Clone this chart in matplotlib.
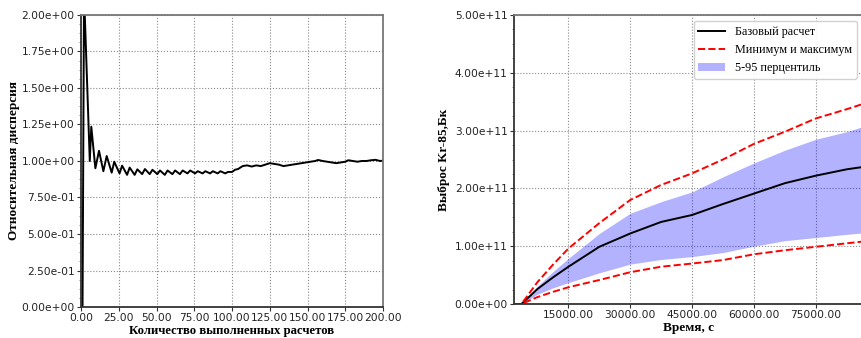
import matplotlib
matplotlib.use('Agg')
import matplotlib.pyplot as plt
from matplotlib.ticker import FormatStrFormatter, MultipleLocator, AutoMinorLocator

plt.rcParams['font.family'] = 'DejaVu Sans'

# --- left panel: relative variance vs number of runs (polyline vertices)
runs = [1, 2, 5.8, 6.8, 9.5, 11.9, 14.8, 17, 20.3, 22, 25.5, 27.2, 30.5, 32.2, 35.5, 37.3,
        40.5, 42.3, 45.5, 47.3, 50.5, 52.3, 55.5, 57.3, 60.5, 62.3, 65.5, 67.3, 70.5, 72.3,
        75.5, 77.3, 80.5, 82.3, 85.5, 87.3, 90.5, 92.3, 95.5, 97.3, 100, 102, 104, 107, 110,
        113, 116, 119, 122, 125, 128, 131, 134, 137, 140, 143, 146, 149, 152, 155, 157, 160,
        163, 166, 169, 172, 175, 177, 180, 183, 186, 189, 192, 195, 198, 200]
rel_var = [0.0, 2.15, 1.0, 1.235, 0.95, 1.07, 0.93, 1.034, 0.92, 0.995, 0.915, 0.968, 0.905,
           0.955, 0.905, 0.943, 0.91, 0.945, 0.91, 0.94, 0.91, 0.935, 0.905, 0.935, 0.91, 0.935,
           0.91, 0.935, 0.915, 0.935, 0.915, 0.93, 0.915, 0.93, 0.915, 0.93, 0.915, 0.93, 0.915,
           0.925, 0.925, 0.94, 0.945, 0.965, 0.97, 0.962, 0.97, 0.965, 0.975, 0.985, 0.98, 0.975,
           0.965, 0.97, 0.975, 0.98, 0.985, 0.99, 0.995, 1.0, 1.007, 1.0, 0.995, 0.99, 0.985,
           0.99, 0.995, 1.005, 1.0, 0.995, 1.0, 1.0, 1.005, 1.008, 1.0, 1.002]

# --- right panel: Kr-85 release vs time (values in 1e11 Bq)
time_s = [1800, 3600, 7500, 11250, 15000, 22500, 30000, 37500, 45000, 52500, 60000, 67500,
          75000, 82500, 86400]
base = [0, 0, 0.26, 0.46, 0.645, 0.99, 1.22, 1.42, 1.54, 1.73, 1.91, 2.09, 2.22, 2.33, 2.37]
rel_max = [0, 0, 0.38, 0.68, 0.96, 1.40, 1.80, 2.06, 2.26, 2.50, 2.77, 2.98, 3.21, 3.37, 3.46]
rel_min = [0, 0, 0.12, 0.21, 0.29, 0.415, 0.55, 0.645, 0.70, 0.76, 0.86, 0.93, 0.99, 1.05, 1.08]
p95 = [0, 0, 0.31, 0.56, 0.79, 1.22, 1.57, 1.77, 1.94, 2.20, 2.44, 2.66, 2.85, 2.98, 3.07]
p5 = [0, 0, 0.17, 0.28, 0.37, 0.54, 0.69, 0.77, 0.82, 0.89, 1.00, 1.095, 1.15, 1.205, 1.23]
scale = 1e11

serif = 'Liberation Serif'
tick_fs = 7.7
label_fs = 9.5


def style_axes(ax):
    ax.grid(True, linestyle=':', color='#8a8a8a', linewidth=0.8)
    ax.set_axisbelow(True)
    for side in ['top', 'right']:
        ax.spines[side].set_color('#777777')
        ax.spines[side].set_linewidth(1.3)
    for side in ['left', 'bottom']:
        ax.spines[side].set_color('#333333')
        ax.spines[side].set_linewidth(1.3)
    ax.tick_params(axis='both', which='major', labelsize=tick_fs, length=3, width=0.8,
                   color='#333333', labelcolor='#222222', pad=1.5)
    ax.yaxis.set_minor_locator(AutoMinorLocator(4))
    ax.tick_params(axis='y', which='minor', length=1.5, width=0.5, color='#555555')
    ax.tick_params(axis='x', which='minor', length=0)


fig = plt.figure(figsize=(8.61, 3.38), dpi=100)

ax1 = fig.add_axes([0.0941, 0.0917, 0.3508, 0.864])
ax1.plot(runs, rel_var, color='black', linewidth=1.4)
ax1.set_xlim(0, 200)
ax1.set_ylim(0, 2.0)
ax1.xaxis.set_major_locator(MultipleLocator(25))
ax1.yaxis.set_major_locator(MultipleLocator(0.25))
ax1.xaxis.set_major_formatter(FormatStrFormatter('%.2f'))
ax1.yaxis.set_major_formatter(FormatStrFormatter('%.2e'))
style_axes(ax1)
ax1.set_xlabel('Количество выполненных расчетов', family=serif, fontweight='bold',
               fontsize=9.2, labelpad=1)
ax1.set_ylabel('Относительная дисперсия', family=serif, fontweight='bold',
               fontsize=label_fs, labelpad=1)

ax2 = fig.add_axes([0.597, 0.1006, 0.405, 0.855])
ax2.fill_between(time_s, [v * scale for v in p5], [v * scale for v in p95],
                 color='blue', alpha=0.3, linewidth=0, label='5-95 перцентиль')
ax2.plot(time_s, [v * scale for v in base], color='black', linewidth=1.4, label='Базовый расчет')
ax2.plot(time_s, [v * scale for v in rel_max], color='red', linestyle='--', linewidth=1.4,
         label='Минимум и максимум')
ax2.plot(time_s, [v * scale for v in rel_min], color='red', linestyle='--', linewidth=1.4)
ax2.set_xlim(1800, 86400)
ax2.set_ylim(0, 5e11)
ax2.set_xticks([15000, 30000, 45000, 60000, 75000])
ax2.yaxis.set_major_locator(MultipleLocator(1e11))
ax2.xaxis.set_major_formatter(FormatStrFormatter('%.2f'))
ax2.yaxis.set_major_formatter(FormatStrFormatter('%.2e'))
style_axes(ax2)
ax2.set_xlabel('Время, с', family=serif, fontweight='bold', fontsize=label_fs, labelpad=1)
ax2.set_ylabel('Выброс Kr-85,Бк', family=serif, fontweight='bold', fontsize=label_fs, labelpad=3)

handles, labels = ax2.get_legend_handles_labels()
order = [1, 2, 0]
ax2.legend([handles[i] for i in order], [labels[i] for i in order], loc='upper right',
           prop={'family': serif, 'size': 8.7}, framealpha=0.9, edgecolor='#cccccc',
           handlelength=2.2, borderaxespad=0.5)

fig.savefig('out.png', dpi=100)
